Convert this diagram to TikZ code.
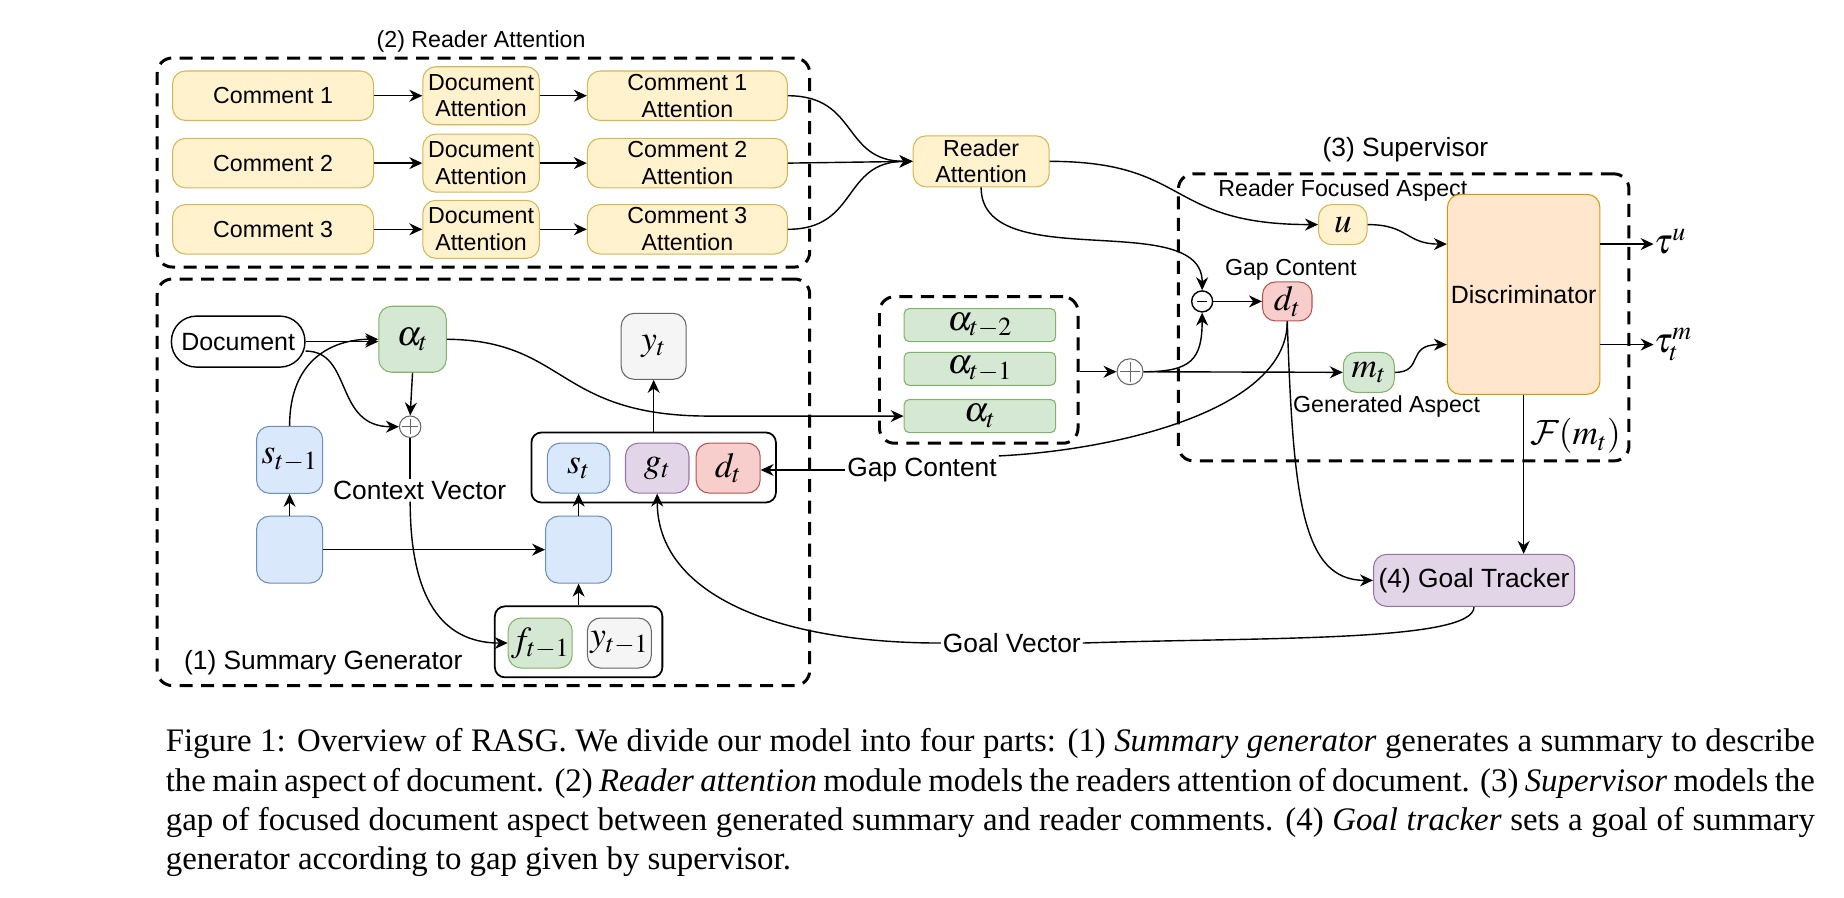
\RequirePackage{fix-cm}
\documentclass[tikz,border=0pt]{standalone}
\usepackage{mathptmx}
\usepackage[no-math]{fontspec}
\setmainfont{Liberation Serif}
\setsansfont{Liberation Sans}
\usetikzlibrary{arrows.meta,calc}
\DeclareMathAlphabet{\mathcm}{OMS}{cmsy}{m}{n}

\definecolor{ylwfill}{HTML}{FFF2CC}\definecolor{ylwline}{HTML}{D6B656}
\definecolor{grnfill}{HTML}{D5E8D4}\definecolor{grnline}{HTML}{82B366}
\definecolor{blufill}{HTML}{DAE8FC}\definecolor{bluline}{HTML}{6C8EBF}
\definecolor{redfill}{HTML}{F8CECC}\definecolor{redline}{HTML}{B85450}
\definecolor{prpfill}{HTML}{E1D5E7}\definecolor{prpline}{HTML}{9673A6}
\definecolor{gryfill}{HTML}{F5F5F5}\definecolor{gryline}{HTML}{666666}
\definecolor{orgfill}{HTML}{FFE6CC}\definecolor{orgline}{HTML}{D79B00}

\newcommand\smalltxt{\sffamily\fontsize{13.2}{15.2}\selectfont}
\newcommand\bigtxt{\sffamily\fontsize{15}{17}\selectfont}
\newcommand\mathtxt{\fontsize{20}{24}\selectfont}
\newcommand\captxt{\rmfamily\fontsize{18.7}{22.4}\selectfont}

\begin{document}
\begin{tikzpicture}[x=0.2364mm,y=-0.2364mm,
  box/.style={draw, line width=0.6pt, rounded corners=2.6mm, inner sep=1pt, align=center},
  ylwbox/.style={box, draw=ylwline, fill=ylwfill, font=\smalltxt},
  grnbox/.style={box, draw=grnline, fill=grnfill, font=\mathtxt},
  blubox/.style={box, draw=bluline, fill=blufill, font=\mathtxt},
  redbox/.style={box, draw=redline, fill=redfill, font=\mathtxt},
  prpbox/.style={box, draw=prpline, fill=prpfill, font=\mathtxt},
  grybox/.style={box, draw=gryline, fill=gryfill, font=\mathtxt},
  histbox/.style={grnbox, rounded corners=1mm, inner ysep=0pt, minimum width=30.3mm, minimum height=6.6mm},
  grp/.style={draw, line width=1.7pt, dash pattern=on 2.6mm off 1.7mm, rounded corners=3mm},
  pack/.style={draw, line width=1pt, rounded corners=2mm},
  lbl/.style={inner sep=1pt},
  ar/.style={-{Stealth[length=2.6mm,width=2.4mm]}, line width=0.8pt},
  ln/.style={line width=0.8pt},
  sumop/.style={circle, draw=gryline, line width=0.6pt, fill=white, inner sep=0pt, minimum size=4.3mm,
    path picture={\draw[gryline, line width=0.6pt]
      ([xshift=0.6mm]path picture bounding box.west) -- ([xshift=-0.6mm]path picture bounding box.east)
      ([yshift=-0.6mm]path picture bounding box.north) -- ([yshift=0.6mm]path picture bounding box.south);}},
  subop/.style={circle, draw, line width=0.8pt, fill=white, inner sep=0pt, minimum size=4.2mm,
    path picture={\draw[line width=0.8pt]
      ([xshift=1.1mm]path picture bounding box.west) -- ([xshift=-1.1mm]path picture bounding box.east);}}]
\useasboundingbox (0,0) rectangle (1560,759);

% (2) reader attention
\node[grp, minimum width=130.5mm, minimum height=41.8mm] (grpra) at (409,137.5) {};
\node[lbl, font=\smalltxt] (tra) at (407,35) {(2) Reader Attention};
\foreach \i/\y in {1/81,2/138,3/194} {
  \node[ylwbox, minimum width=40.2mm, minimum height=9.9mm] (c\i) at (231,\y) {Comment \i};
  \node[ylwbox, minimum width=23.3mm, minimum height=11.6mm] (da\i) at (407,\y) {Document\\Attention};
  \node[ylwbox, minimum width=40mm, minimum height=9.9mm] (ca\i) at (581.5,\y) {Comment \i\\Attention};
  \draw[ar] (c\i) -- (da\i);
  \draw[ar] (da\i) -- (ca\i);
}
\node[ylwbox, minimum width=27.2mm, minimum height=10.2mm] (ra) at (830,136.5) {Reader\\Attention};
\draw[ar] (ca1.east) .. controls +(60,0) and +(-60,0) .. (ra.west);
\draw[ar] (ca2.east) -- (ra.west);
\draw[ar] (ca3.east) .. controls +(60,0) and +(-60,0) .. (ra.west);

% (1) summary generator
\node[grp, minimum width=130.5mm, minimum height=81.3mm] (grpsg) at (409,408) {};
\node[lbl, font=\bigtxt] (tsg) at (273.5,561) {(1) Summary Generator};
\node[draw, line width=0.8pt, rounded corners=5mm, minimum width=26.7mm, minimum height=10.2mm, font=\sffamily\fontsize{14.2}{16}\selectfont] (doc) at (201.5,289) {Document};
\node[grnbox, minimum width=13.5mm, minimum height=13.2mm] (at) at (349,287) {$\alpha_t$};
\node[grybox, minimum width=13mm, minimum height=13.2mm] (yt) at (553,293) {$y_t$};
\node[sumop] (plus1) at (347,361) {};
\node[blubox, minimum width=13.2mm, minimum height=13.4mm] (st1) at (245,389) {$s_{t-1}$};
\node[blubox, minimum width=13.2mm, minimum height=13.4mm] (hl) at (245,465) {};
\node[blubox, minimum width=13.2mm, minimum height=13.4mm] (hr) at (489.5,465) {};
\node[pack, minimum width=48.9mm, minimum height=14mm] (state) at (553,395.5) {};
\node[blubox, minimum width=12.5mm, minimum height=10mm] (st) at (489.5,396) {$s_t$};
\node[prpbox, minimum width=12.7mm, minimum height=10mm] (gt) at (556,396) {$g_t$};
\node[redbox, minimum width=12.8mm, minimum height=10mm] (dt) at (616,396) {$d_t$};
\node[pack, minimum width=33.5mm, minimum height=14.2mm] (inp) at (489.5,543) {};
\node[grnbox, minimum width=12.8mm, minimum height=10mm] (f1) at (457,544) {$f_{t-1}$};
\node[grybox, minimum width=12.8mm, minimum height=10mm] (y1) at (524,544) {$y_{t-1}$};
\node[lbl, font=\bigtxt] (cv) at (355,414.6) {Context Vector};

\draw[ar] (doc.east) -- (doc.east -| at.west);
\draw[ar] (st1.north) .. controls +(0,-55) and +(-40,0) .. (at.west);
\draw[ar] ($(doc.east)+(0,8)$) .. controls +(40,0) and +(-55,0) .. (plus1.west);
\draw[ar] (at.south) -- (plus1.north);
\draw[ln] (plus1.south) -- (plus1.south |- cv.north);
\draw[ar] (plus1.south |- cv.south) .. controls +(0,90) and +(-50,0) .. (f1.west);
\draw[ar] (hl.north) -- (st1.south);
\draw[ar] (hl.east) -- (hr.west);
\draw[ar] (hr.north) -- (st.south);
\draw[ar] (inp.north) -- (hr.south);
\draw[ar] (state.north) -- (yt.south);

% attention history
\node[grp, minimum width=39.7mm, minimum height=29.3mm] (alphas) at (828,313) {};
\node[histbox] (a2) at (829,275) {$\alpha_{t-2}$};
\node[histbox] (a1) at (829,312) {$\alpha_{t-1}$};
\node[histbox] (a0) at (829,352) {$\alpha_t$};
\coordinate (bend) at (600,352);
\draw[ar] (at.east) .. controls (480,288) and (470,352) .. (bend) -- (a0.west);
\node[sumop, minimum size=5.2mm] (plus2) at (956,314.5) {};
\draw[ar] (alphas.east |- plus2) -- (plus2.west);

% (3) supervisor
\node[grp, minimum width=90.1mm, minimum height=57.4mm] (grpsv) at (1187.5,268.5) {};
\node[lbl, font=\bigtxt] (tsv) at (1189,127) {(3) Supervisor};
\node[lbl, font=\smalltxt] (rfa) at (1136,161) {Reader Focused Aspect};
\node[ylwbox, font=\mathtxt, minimum width=9.7mm, minimum height=8mm] (u) at (1136,190) {$u$};
\node[lbl, font=\smalltxt] (gcu) at (1092,228) {Gap Content};
\node[subop] (minus) at (1017,255) {};
\node[redbox, minimum width=9.9mm, minimum height=7.8mm] (dsup) at (1089,255) {$d_t$};
\node[grnbox, minimum width=10.2mm, minimum height=8mm] (mt) at (1158,315) {$m_t$};
\node[lbl, font=\smalltxt] (gen) at (1173,344) {Generated Aspect};
\node[box, draw=orgline, fill=orgfill, minimum width=30.5mm, minimum height=40mm, font=\sffamily\fontsize{14.2}{16}\selectfont] (disc) at (1289,249) {Discriminator};
\coordinate (din1) at ($(disc.north west)!.25!(disc.south west)$);
\coordinate (din2) at ($(disc.north west)!.75!(disc.south west)$);
\coordinate (dout1) at ($(disc.north east)!.25!(disc.south east)$);
\coordinate (dout2) at ($(disc.north east)!.75!(disc.south east)$);
\node[anchor=west, inner sep=0pt, font=\mathtxt] (tu) at ($(dout1)+(45,-2)$) {$\tau^u$};
\node[anchor=west, inner sep=0pt, font=\mathtxt] (tm) at ($(dout2)+(45,0)$) {$\tau_t^m$};

\draw[ar] (ra.east) .. controls +(120,0) and +(-130,0) .. (u.west);
\draw[ar] (ra.south) .. controls +(0,75) and +(0,-70) .. (minus.north);
\draw[ar] (plus2.east) .. controls +(40,0) and +(0,40) .. (minus.south);
\draw[ar] (plus2.east) -- (mt.west);
\draw[ar] (minus.east) -- (dsup.west);
\draw[ar] (u.east) .. controls +(35,0) and +(-35,0) .. (din1);
\draw[ar] (mt.east) .. controls +(25,0) and +(-35,0) .. (din2);
\draw[ar] (dout1) -- (dout1 -| tu.west);
\draw[ar] (dout2) -- (dout2 -| tm.west);

% (4) goal tracker
\node[prpbox, font=\bigtxt, minimum width=40.2mm, minimum height=10.4mm] (goal) at (1247,491) {(4) Goal Tracker};
\draw[ar] (disc.south) -- (disc.south |- goal.north) node[pos=0.26, right, font=\mathtxt] {$\mathcm{F}(m_t)$};
\draw[ar] (dsup.south) .. controls +(5,150) and +(-60,0) .. (goal.west);
\node[lbl, font=\bigtxt] (gcl) at (780,397.6) {Gap Content};
\draw[ln] (dsup.south) .. controls +(0,75) and +(100,-5) .. (gcl.north east);
\draw[ar] (gcl.west) -- (gcl.west -| dt.east);
\node[lbl, font=\bigtxt] (gvl) at (856,544) {Goal Vector};
\draw[ln] (goal.south) .. controls +(0,30) and +(150,-5) .. (gvl.east);
\draw[ar] (gvl.west) .. controls +(-140,0) and +(0,85) .. (gt.south);

% caption
\node[anchor=north west, inner sep=0pt, text width=329.8mm, align=justify, font=\captxt] (cap) at (140,616)
{\hyphenpenalty=10000 Figure 1: Overview of RASG. We divide our model into four parts: (1) \textit{Summary generator} generates a summary to describe\linebreak
the main aspect of document. (2) \textit{Reader attention} module models the readers attention of document. (3) \textit{Supervisor} models the\linebreak
gap of focused document aspect between generated summary and reader comments. (4) \textit{Goal tracker} sets a goal of summary\linebreak
generator according to gap given by supervisor.};
\end{tikzpicture}
\end{document}
